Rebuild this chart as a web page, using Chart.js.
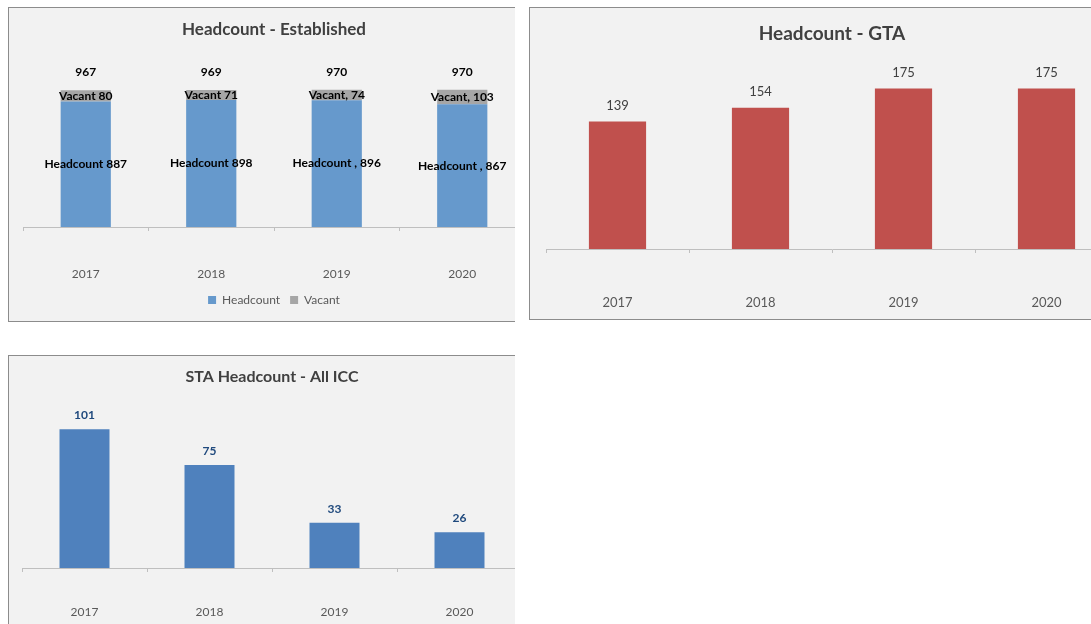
<!DOCTYPE html>
<html lang="en">
<head>
  <meta charset="UTF-8">
  <title>Headcount</title>
  <script src="https://cdn.jsdelivr.net/npm/chart.js"></script>
  <style>
    body {
      margin: 0;
      background: #fff;
      overflow: hidden;
      font-family: Lato, sans-serif;
    }

    .panel {
      position: absolute;
      box-sizing: border-box;
      background: #f2f2f2;
      border: 1px solid #8c8c8c;
      overflow: hidden;
    }

    .panel canvas {
      position: absolute;
      left: 0;
      top: 0;
    }

    #p1 { left: 8px; top: 7px; width: 507px; height: 315px; border-right: none; }
    #p2 { left: 529px; top: 7px; width: 600px; height: 313px; }
    #p3 { left: 8px; top: 355px; width: 507px; height: 300px; border-right: none; }
  </style>
</head>
<body>

  <div class="panel" id="p1"><canvas id="established" width="532" height="313"></canvas></div>
  <div class="panel" id="p2"><canvas id="gta" width="602" height="311"></canvas></div>
  <div class="panel" id="p3"><canvas id="sta" width="526" height="280"></canvas></div>

  <script>
    const years = ['2017', '2018', '2019', '2020'];

    // Headcount - Established (stacked)
    const establishedHeadcount = [887, 898, 896, 867];
    const establishedVacant = [80, 71, 74, 103];
    const headcountPrefix = ['Headcount ', 'Headcount ', 'Headcount , ', 'Headcount , '];
    const vacantPrefix = ['Vacant ', 'Vacant ', 'Vacant, ', 'Vacant, '];

    // Headcount - GTA
    const gtaHeadcount = [139, 154, 175, 175];

    // STA Headcount - All ICC
    const staHeadcount = [101, 75, 33, 26];

    const FONT = 'Lato, sans-serif';

    // draws the value labels on / above the bars
    function labelPlugin(items) {
      return {
        id: 'barLabels',
        afterDatasetsDraw(chart) {
          const ctx = chart.ctx;
          ctx.save();
          ctx.textAlign = 'center';
          ctx.textBaseline = 'middle';
          items.forEach(item => {
            ctx.font = item.font;
            ctx.fillStyle = item.color;
            const meta = chart.getDatasetMeta(item.dataset);
            meta.data.forEach((bar, i) => {
              const y = item.center ? (bar.y + bar.base) / 2 : bar.y - item.offset;
              ctx.fillText(item.texts[i], bar.x, y);
            });
          });
          ctx.restore();
        }
      };
    }

    function xAxis(fontSize, padding, height) {
      return {
        stacked: true,
        border: { color: '#bfbfbf' },
        grid: { drawOnChartArea: false, color: '#bfbfbf', tickLength: 4, offset: true },
        ticks: { color: '#595959', font: { family: FONT, size: fontSize }, padding: padding },
        afterFit: scale => { scale.height = height; }
      };
    }

    function title(text, size, top, bottom) {
      return {
        display: true,
        text: text,
        color: '#404040',
        font: { family: FONT, size: size, weight: 'bold' },
        padding: { top: top, bottom: bottom }
      };
    }

    // Chart 1
    const totals = establishedHeadcount.map((v, i) => v + establishedVacant[i]);
    new Chart(document.getElementById('established'), {
      type: 'bar',
      data: {
        labels: years,
        datasets: [
          { label: 'Headcount', data: establishedHeadcount, backgroundColor: '#6699cc' },
          { label: 'Vacant', data: establishedVacant, backgroundColor: '#a6a6a6' }
        ]
      },
      options: {
        responsive: false,
        animation: false,
        barPercentage: 0.4,
        categoryPercentage: 1,
        layout: { padding: { left: 14, right: 16, top: 0, bottom: 5 } },
        scales: {
          x: xAxis(12, 36, 57),
          y: { stacked: true, display: false, min: 0, max: 1200 }
        },
        plugins: {
          title: title('Headcount - Established', 17, 11.5, 17.3),
          legend: {
            position: 'bottom',
            labels: { boxWidth: 8, boxHeight: 8, padding: 10, color: '#595959', font: { family: FONT, size: 12 } }
          },
          tooltip: { enabled: false }
        }
      },
      plugins: [labelPlugin([
        { dataset: 0, center: true, font: 'bold 12px ' + FONT, color: '#000',
          texts: establishedHeadcount.map((v, i) => headcountPrefix[i] + v) },
        { dataset: 1, center: true, font: 'bold 12px ' + FONT, color: '#000',
          texts: establishedVacant.map((v, i) => vacantPrefix[i] + v) },
        { dataset: 1, offset: 18, font: 'bold 12px ' + FONT, color: '#000', texts: totals.map(String) }
      ])]
    });

    // Chart 2
    new Chart(document.getElementById('gta'), {
      type: 'bar',
      data: {
        labels: years,
        datasets: [{ label: 'Headcount', data: gtaHeadcount, backgroundColor: '#c0504d' }]
      },
      options: {
        responsive: false,
        animation: false,
        barPercentage: 0.4,
        categoryPercentage: 1,
        layout: { padding: { left: 16, right: 14, top: 0, bottom: 0 } },
        scales: {
          x: xAxis(13, 42, 70),
          y: { display: false, min: 0, max: 200 }
        },
        plugins: {
          title: title('Headcount - GTA', 19, 14.5, 20.3),
          legend: { display: false },
          tooltip: { enabled: false }
        }
      },
      plugins: [labelPlugin([
        { dataset: 0, offset: 16, font: '13px ' + FONT, color: '#404040', texts: gtaHeadcount.map(String) }
      ])]
    });

    // Chart 3
    new Chart(document.getElementById('sta'), {
      type: 'bar',
      data: {
        labels: years,
        datasets: [{ label: 'STA', data: staHeadcount, backgroundColor: '#4f81bd' }]
      },
      options: {
        responsive: false,
        animation: false,
        barPercentage: 0.4,
        categoryPercentage: 1,
        layout: { padding: { left: 13, right: 13, top: 0, bottom: 0 } },
        scales: {
          x: xAxis(12, 33, 68),
          y: { display: false, min: 0, max: 120 }
        },
        plugins: {
          title: title('STA Headcount - All ICC', 16, 11.5, 16.3),
          legend: { display: false },
          tooltip: { enabled: false }
        }
      },
      plugins: [labelPlugin([
        { dataset: 0, offset: 14, font: 'bold 12px ' + FONT, color: '#1f497d', texts: staHeadcount.map(String) }
      ])]
    });
  </script>

</body>
</html>
